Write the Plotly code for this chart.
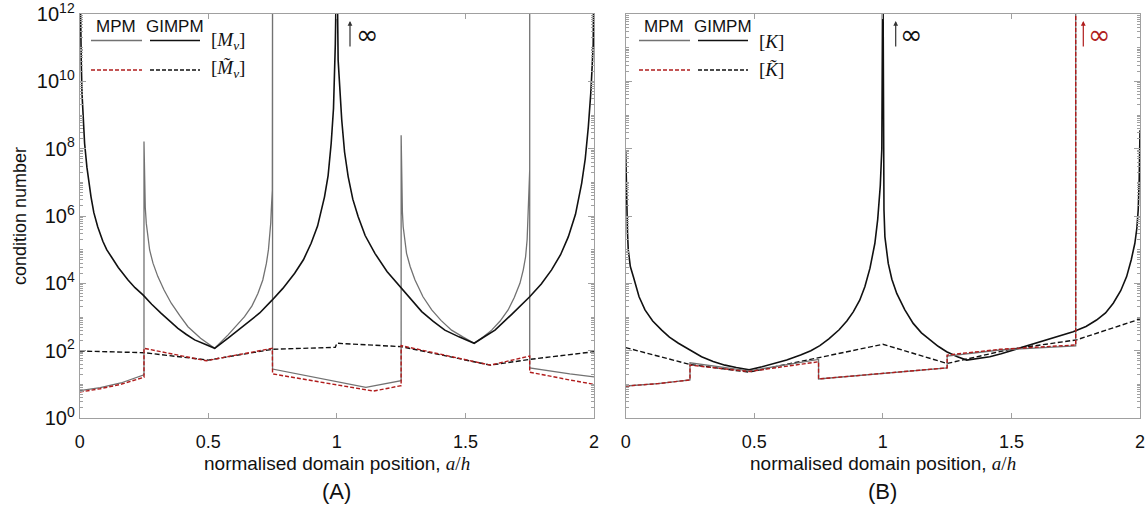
import plotly.graph_objects as go

# ---------------- data (y given as log10 of condition number) ----------------
# Panel A : mass matrix
a_gimpm_x = [0.001, 0.002, 0.0038, 0.006, 0.009, 0.013, 0.019, 0.028, 0.035, 0.044, 0.055, 0.070, 0.09, 0.105,
             0.123, 0.15, 0.188, 0.215, 0.247, 0.28, 0.317, 0.35, 0.382, 0.415, 0.447, 0.49, 0.525,
             0.577, 0.641, 0.70, 0.748, 0.79, 0.836, 0.87, 0.90, 0.925, 0.952, 0.966, 0.978, 0.987, 0.994, 1.0,
             1.005, 1.012, 1.019, 1.03, 1.044, 1.062, 1.083, 1.11, 1.148, 1.195, 1.247, 1.29, 1.33, 1.375,
             1.42, 1.475, 1.534,
             1.575, 1.615, 1.68, 1.75, 1.795, 1.835, 1.87, 1.90, 1.928, 1.952, 1.966, 1.978, 1.988, 1.997, 2.0]
a_gimpm_log = [13.5, 12.6, 11.8, 10.6, 9.64, 8.9, 8.16, 7.45, 7.0, 6.57, 6.1, 5.68, 5.25, 5.0,
               4.79, 4.47, 4.10, 3.87, 3.65, 3.38, 3.11, 2.88, 2.66, 2.48, 2.32, 2.18, 2.07,
               2.37, 2.76, 3.12, 3.50, 3.85, 4.30, 4.70, 5.19, 5.7, 6.57, 7.2, 8.16, 9.2, 11.1, 14,
               10.63, 9.6, 8.85, 7.9, 7.17, 6.5, 5.98, 5.42, 4.89, 4.35, 3.90, 3.52, 3.16, 2.87,
               2.61, 2.41, 2.22,
               2.42, 2.61, 3.08, 3.60, 3.98, 4.40, 4.85, 5.38, 6.05, 6.97, 7.7, 8.65, 9.7, 11.1, 14]

a_mpm_x = [0.0, 0.08, 0.16, 0.25, 0.25, 0.2515, 0.2527, 0.255, 0.259, 0.265, 0.272, 0.285, 0.304, 0.328,
           0.356, 0.39, 0.421, 0.47, 0.525,
           0.577, 0.641, 0.67, 0.693, 0.712, 0.726, 0.734, 0.739, 0.743, 0.745, 0.749, 0.75, 0.75,
           1.113, 1.25, 1.25, 1.2515, 1.2527, 1.255, 1.258, 1.264, 1.271, 1.285, 1.304, 1.335, 1.369,
           1.405, 1.446, 1.49, 1.534,
           1.57, 1.602, 1.635, 1.666, 1.69, 1.712, 1.725, 1.734, 1.740, 1.744, 1.747, 1.750, 1.75, 1.75,
           1.906, 2.0]
a_mpm_log = [0.81, 0.90, 1.04, 1.28, 8.21, 7.2, 6.67, 6.25, 5.78, 5.35, 4.99, 4.6, 4.20, 3.8,
             3.41, 3.03, 2.71, 2.37, 2.07,
             2.47, 3.01, 3.33, 3.70, 4.1, 4.59, 5.0, 5.38, 5.8, 6.18, 6.77, 14, 1.455,
             0.91, 1.11, 8.40, 7.2, 6.57, 6.1, 5.68, 5.25, 4.89, 4.5, 4.10, 3.6, 3.21,
             2.9, 2.61, 2.41, 2.22,
             2.41, 2.61, 2.88, 3.21, 3.58, 4.0, 4.4, 4.79, 5.3, 5.98, 6.6, 7.37, 14, 1.49,
             1.31, 1.22]

a_mpm_t_x = [0.0, 0.08, 0.16, 0.25, 0.25, 0.492, 0.749, 0.75, 1.142, 1.25, 1.25, 1.597, 1.75, 1.75, 1.906, 2.0]
a_mpm_t_log = [0.77, 0.87, 1.0, 1.21, 2.07, 1.70, 2.07, 1.31, 0.80, 0.96, 2.15, 1.57, 1.84, 1.36, 1.13, 1.0]

a_gimpm_t_x = [0.0, 0.25, 0.5, 0.75, 0.994, 1.0, 1.25, 1.597, 1.75, 2.0]
a_gimpm_t_log = [1.99, 1.94, 1.72, 2.04, 2.10, 2.22, 2.12, 1.57, 1.74, 1.97]

# Panel B : stiffness matrix
b_gimpm_x = [0.0, 0.002, 0.004, 0.007, 0.010, 0.018, 0.0296, 0.04, 0.052, 0.075, 0.105, 0.140, 0.17, 0.205,
             0.25, 0.295, 0.34, 0.386, 0.43, 0.48,
             0.53, 0.58, 0.626, 0.68, 0.72, 0.755, 0.79, 0.83, 0.86, 0.885, 0.91, 0.93, 0.95, 0.969, 0.98,
             0.99, 0.996, 1.0,
             1.002, 1.0044, 1.008, 1.014, 1.021, 1.035, 1.054, 1.085, 1.118, 1.15, 1.183, 1.215, 1.248, 1.29,
             1.326, 1.37, 1.416, 1.46, 1.507, 1.57, 1.637, 1.69, 1.74, 1.79, 1.831, 1.866, 1.896, 1.925,
             1.948, 1.966, 1.98, 1.988, 1.993, 1.997, 2.0]
b_gimpm_log = [7.96, 6.9, 6.18, 5.5, 4.99, 4.5, 4.20, 3.9, 3.6, 3.21, 2.88, 2.61, 2.4, 2.22,
               2.02, 1.82, 1.68, 1.57, 1.5, 1.43,
               1.52, 1.62, 1.72, 1.87, 2.0, 2.15, 2.35, 2.62, 2.88, 3.15, 3.5, 3.9, 4.45, 5.19, 5.9,
               6.9, 8.0, 14,
               7.2, 6.18, 5.38, 4.95, 4.59, 4.12, 3.70, 3.22, 2.81, 2.53, 2.32, 2.13, 1.97, 1.82,
               1.72, 1.76, 1.82, 1.91, 2.02, 2.16, 2.32, 2.43, 2.56, 2.72, 2.91, 3.12, 3.41, 3.78,
               4.20, 4.7, 5.19, 5.65, 6.18, 7.1, 8.55]

b_mpm_x = [0.0, 0.125, 0.25, 0.25, 0.48, 0.75, 0.75, 1.25, 1.25, 1.455, 1.75, 1.75]
b_mpm_log = [0.95, 1.02, 1.13, 1.64, 1.40, 1.74, 1.16, 1.49, 1.84, 2.02, 2.14, 14]

b_mpm_t_x = [0.0, 0.125, 0.25, 0.25, 0.48, 0.75, 0.75, 1.25, 1.25, 1.455, 1.75, 1.75]
b_mpm_t_log = [0.95, 1.02, 1.13, 1.57, 1.38, 1.67, 1.16, 1.49, 1.87, 2.04, 2.17, 14]

b_gimpm_t_x = [0.0, 0.12, 0.25, 0.48, 1.0, 1.25, 1.339, 1.494, 1.753, 2.0]
b_gimpm_t_log = [2.09, 1.84, 1.59, 1.36, 2.19, 1.62, 1.77, 2.04, 2.32, 2.94]

x_tickvals = [0, 0.5, 1, 1.5, 2]
x_ticktext = ["0", "0.5", "1", "1.5", "2"]
y_exponents = [0, 2, 4, 6, 8, 10, 12]

# ---------------- styling ----------------
W, H = 1145, 513
GRAY = "#727272"
BLACK = "#111111"
RED = "#b01c1c"
FRAME = "#a0a0a0"
SANS = "Liberation Sans, Arial, sans-serif"
SERIF = "Liberation Serif, DejaVu Serif, serif"


def px(x):
    return x / W


def py(y):
    return 1 - y / H


def vals(logs):
    return [10 ** v for v in logs]


fig = go.Figure()


def add(xs, logs, color, width, dash, xa, ya):
    fig.add_trace(go.Scatter(x=xs, y=vals(logs), mode="lines", xaxis=xa, yaxis=ya,
                             line=dict(color=color, width=width, dash=dash),
                             showlegend=False, hoverinfo="skip"))


# panel A
add(a_gimpm_t_x, a_gimpm_t_log, BLACK, 1.4, "5px,2.5px", "x", "y")
add(a_mpm_x, a_mpm_log, GRAY, 1.3, "solid", "x", "y")
add(a_gimpm_x, a_gimpm_log, BLACK, 1.6, "solid", "x", "y")
add(a_mpm_t_x, a_mpm_t_log, RED, 1.4, "4px,2px", "x", "y")
# panel B
add(b_gimpm_t_x, b_gimpm_t_log, BLACK, 1.4, "5px,2.5px", "x2", "y2")
add(b_gimpm_x, b_gimpm_log, BLACK, 1.6, "solid", "x2", "y2")
add(b_mpm_x, b_mpm_log, GRAY, 1.3, "solid", "x2", "y2")
add(b_mpm_t_x, b_mpm_t_log, RED, 1.4, "4px,2px", "x2", "y2")

major_vals = [10 ** e for e in y_exponents]
major_text = ["10<sup>%d</sup>" % e for e in y_exponents]
minor_vals = [m * 10 ** d for d in range(0, 12) for m in range(1, 10) if not (m == 1 and d % 2 == 0)]

xa_common = dict(range=[0, 2], tickvals=x_tickvals, ticktext=x_ticktext, ticks="inside", ticklen=5,
                 tickcolor=FRAME, showline=True, linecolor=FRAME, linewidth=1, mirror="ticks",
                 showgrid=False, zeroline=False, automargin=False, ticklabelstandoff=7,
                 ticklabeloverflow="allow",
                 tickfont=dict(family=SANS, size=18, color="#111"))
ya_common = dict(type="log", range=[0, 12], tickvals=major_vals, ticktext=major_text, ticks="inside",
                 ticklen=6, tickcolor=FRAME, showline=True, linecolor=FRAME, linewidth=1, mirror="ticks",
                 showgrid=False, zeroline=False, automargin=False, ticklabeloverflow="allow",
                 minor=dict(tickvals=minor_vals, ticks="inside", ticklen=3, tickcolor=FRAME, showgrid=False))

ydom = [1 - 418 / H, 1 - 14 / H]
fig.update_layout(
    width=W, height=H, margin=dict(l=0, r=0, t=0, b=0),
    paper_bgcolor="white", plot_bgcolor="white",
    xaxis=dict(domain=[79.7 / W, 594 / W], anchor="y", **xa_common),
    yaxis=dict(domain=ydom, anchor="x", tickfont=dict(family=SANS, size=20, color="#111"), **ya_common),
    xaxis2=dict(domain=[625.7 / W, 1140 / W], anchor="y2", **xa_common),
    yaxis2=dict(domain=ydom, anchor="x2", showticklabels=False, **ya_common),
)

ann = []
shapes = []


def text(x, y, s, size, family=SANS, color="#111", xanchor="center", angle=0):
    ann.append(dict(x=px(x), y=py(y), xref="paper", yref="paper", text=s, showarrow=False,
                    font=dict(family=family, size=size, color=color), xanchor=xanchor,
                    yanchor="middle", textangle=angle))


def hline(x0, x1, y, color, dash="solid", width=1.4):
    shapes.append(dict(type="line", xref="paper", yref="paper", x0=px(x0), x1=px(x1), y0=py(y), y1=py(y),
                       line=dict(color=color, width=width, dash=dash)))


# axis titles
text(20, 216, "condition number", 18, angle=-90)
for cx, lab in [(336.9, "(A)"), (882.9, "(B)")]:
    text(cx, 463, "normalised domain position, <span style='font-family:Liberation Serif'><i>a</i>/<i>h</i></span>", 19)
    text(cx, 491, lab, 22)

# legends
for off, m1, m2 in [(0, "[<i>M</i><sub><i>v</i></sub>]", "[<i>M\u0303</i><sub><i>v</i></sub>]"),
                    (548, "[<i>K</i>]", "[<i>K\u0303</i>]")]:
    text(116 + off, 26, "MPM", 17)
    text(175 + off, 26, "GIMPM", 17)
    hline(91 + off, 142 + off, 40.5, GRAY, width=1.3)
    hline(150 + off, 200 + off, 40.5, BLACK, width=1.5)
    hline(91 + off, 142 + off, 70, RED, dash="4px,2px", width=1.3)
    hline(150 + off, 200 + off, 70, BLACK, dash="4px,2px", width=1.3)
    text(209 + off, 41, m1, 19, family=SERIF, xanchor="left")
    text(209 + off, 69, m2, 19, family=SERIF, xanchor="left")

# infinity markers
for xa, xi, col in [(350, 367, "#333"), (895.7, 911, "#333"), (1083.3, 1099, RED)]:
    ann.append(dict(x=px(xa), y=py(21), xref="paper", yref="paper", ax=0, ay=27, text="",
                    showarrow=True, arrowhead=2, arrowsize=0.8, arrowwidth=1.2, arrowcolor=col))
    text(xi, 35, "\u221e", 27, family="DejaVu Sans", color=(BLACK if col != RED else RED))

fig.update_layout(annotations=ann, shapes=shapes)
fig.write_html("out.html", config={"displayModeBar": False},
               post_script="document.body.style.margin='0px';document.body.style.padding='0px';")
